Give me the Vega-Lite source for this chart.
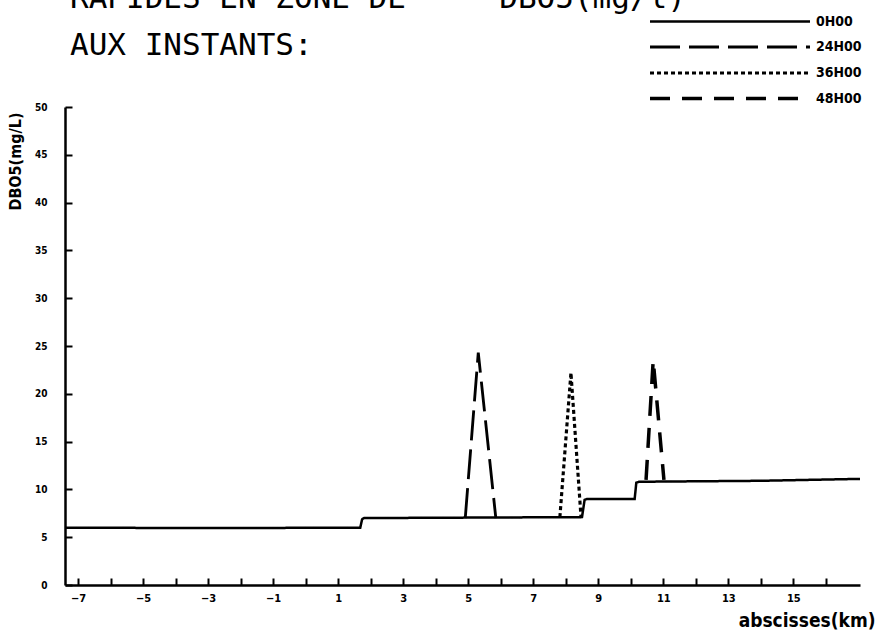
{
  "$schema": "https://vega.github.io/schema/vega-lite/v6.json",
  "width": 795,
  "height": 478,
  "autosize": {"type": "none"},
  "padding": {"left": 65, "top": 107, "right": 18, "bottom": 48},
  "background": "white",
  "config": {"view": {"stroke": null}},
  "title": {
    "text": ["RAPIDES EN ZONE DE\u00a0\u00a0\u00a0\u00a0\u00a0DBO5(mg/l)", "AUX INSTANTS:"],
    "anchor": "start",
    "frame": "group",
    "dx": 5,
    "offset": -50,
    "font": "DejaVu Sans Mono",
    "fontSize": 31,
    "fontWeight": "normal",
    "color": "black",
    "lineHeight": 47
  },
  "data": {
    "values": [
      {"serie": "0H00", "i": 1, "x": -7.4, "y": 6.0},
      {"serie": "0H00", "i": 2, "x": -3.0, "y": 5.95},
      {"serie": "0H00", "i": 3, "x": 1.68, "y": 6.0},
      {"serie": "0H00", "i": 4, "x": 1.74, "y": 6.9},
      {"serie": "0H00", "i": 5, "x": 1.8, "y": 7.0},
      {"serie": "0H00", "i": 6, "x": 5.0, "y": 7.05},
      {"serie": "0H00", "i": 7, "x": 8.5, "y": 7.1},
      {"serie": "0H00", "i": 8, "x": 8.58, "y": 8.9},
      {"serie": "0H00", "i": 9, "x": 8.65, "y": 9.0},
      {"serie": "0H00", "i": 10, "x": 10.12, "y": 9.0},
      {"serie": "0H00", "i": 11, "x": 10.17, "y": 10.7},
      {"serie": "0H00", "i": 12, "x": 10.25, "y": 10.8},
      {"serie": "0H00", "i": 13, "x": 14.0, "y": 10.9},
      {"serie": "0H00", "i": 14, "x": 17.05, "y": 11.1},
      {"serie": "24H00", "i": 1, "x": 4.91, "y": 7.0},
      {"serie": "24H00", "i": 2, "x": 5.31, "y": 24.3},
      {"serie": "24H00", "i": 3, "x": 5.85, "y": 7.0},
      {"serie": "36H00", "i": 1, "x": 7.82, "y": 7.1},
      {"serie": "36H00", "i": 2, "x": 8.16, "y": 22.2},
      {"serie": "36H00", "i": 3, "x": 8.47, "y": 7.1},
      {"serie": "48H00", "i": 1, "x": 10.47, "y": 11.0},
      {"serie": "48H00", "i": 2, "x": 10.69, "y": 23.5},
      {"serie": "48H00", "i": 3, "x": 11.02, "y": 11.0}
    ]
  },
  "mark": {"type": "line", "color": "black", "strokeCap": "butt", "clip": true},
  "encoding": {
    "x": {
      "field": "x",
      "type": "quantitative",
      "scale": {"domain": [-7.4, 17.05], "nice": false, "zero": false},
      "axis": {
        "values": [-7, -6, -5, -4, -3, -2, -1, 0, 1, 2, 3, 4, 5, 6, 7, 8, 9, 10, 11, 12, 13, 14, 15, 16],
        "labelExpr": "datum.value % 2 != 0 ? datum.label : ''",
        "format": "d",
        "grid": false,
        "ticks": true,
        "domainColor": "black",
        "domainWidth": 2.5,
        "tickColor": "black",
        "tickWidth": 2,
        "tickSize": -7,
        "tickOpacity": 1,
        "labelPadding": 14,
        "labelFont": "DejaVu Sans Condensed",
        "labelFontWeight": "bold",
        "labelFontSize": 11,
        "labelColor": "black",
        "title": "abscisses(km)",
        "titleFont": "DejaVu Sans Condensed",
        "titleFontWeight": "bold",
        "titleFontSize": 19,
        "titleColor": "black",
        "titleAnchor": null,
        "titleX": 810,
        "titleY": 35,
        "titleAlign": "right",
        "titleBaseline": "middle"
      }
    },
    "y": {
      "field": "y",
      "type": "quantitative",
      "scale": {"domain": [0, 50], "nice": false},
      "axis": {
        "values": [0, 5, 10, 15, 20, 25, 30, 35, 40, 45, 50],
        "grid": false,
        "ticks": true,
        "domainColor": "black",
        "domainWidth": 2.5,
        "tickColor": "black",
        "tickWidth": 2,
        "tickSize": -7,
        "tickOpacity": 1,
        "labelPadding": 25,
        "labelFont": "DejaVu Sans Condensed",
        "labelFontWeight": "bold",
        "labelFontSize": 10,
        "labelColor": "black",
        "title": "DBO5(mg/L)",
        "titleFont": "DejaVu Sans Condensed",
        "titleFontWeight": "bold",
        "titleFontSize": 16,
        "titleColor": "black",
        "titleAngle": -90,
        "titleX": -50,
        "titleY": 5,
        "titleAlign": "right",
        "titleBaseline": "middle"
      }
    },
    "strokeDash": {
      "field": "serie",
      "type": "nominal",
      "scale": {
        "domain": ["0H00", "24H00", "36H00", "48H00"],
        "range": [[1, 0], [30, 9], [4, 3], [20, 12]]
      },
      "legend": {
        "title": null,
        "orient": "none",
        "legendX": 655,
        "legendY": -95,
        "padding": 0,
        "symbolType": "M-10,0H10",
        "symbolSize": 256,
        "symbolStrokeWidth": 2.2,
        "symbolStrokeColor": "black",
        "symbolFillColor": "transparent",
        "labelOffset": 76,
        "labelFont": "DejaVu Sans Condensed",
        "labelFontSize": 14,
        "labelFontWeight": "bold",
        "labelColor": "black",
        "rowPadding": 8.5
      }
    },
    "strokeWidth": {
      "field": "serie",
      "type": "ordinal",
      "scale": {"domain": ["0H00", "24H00", "36H00", "48H00"], "range": [2.5, 3.5, 2, 2]},
      "legend": null
    },
    "order": {"field": "i", "type": "quantitative"}
  }
}
